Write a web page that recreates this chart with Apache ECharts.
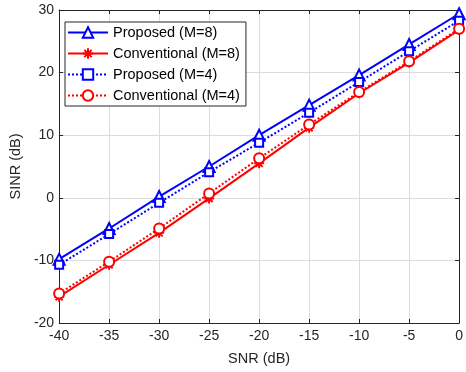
<!DOCTYPE html>
<html>
<head>
<meta charset="utf-8">
<script src="https://cdn.jsdelivr.net/npm/echarts@6/dist/echarts.min.js"></script>
<style>
  html, body { margin: 0; padding: 0; background: #fff; }
  #chart { width: 466px; height: 372px; }
</style>
</head>
<body>
<div id="chart"></div>
<script>
const snr = [-40, -35, -30, -25, -20, -15, -10, -5, 0]

const proposedM8 = [-9.8, -4.9, 0.2, 5.0, 10.0, 14.8, 19.6, 24.5, 29.4]
const conventionalM8 = [-15.8, -10.7, -5.6, -0.1, 5.5, 11.2, 16.7, 21.6, 26.8]
const proposedM4 = [-10.7, -5.8, -0.8, 4.1, 8.8, 13.6, 18.5, 23.4, 28.3]
const conventionalM4 = [-15.3, -10.2, -4.9, 0.7, 6.3, 11.7, 16.9, 21.8, 27.0]

const names = ['Proposed (M=8)', 'Conventional (M=8)', 'Proposed (M=4)', 'Conventional (M=4)']

const axisColor = '#262626'
const font = 'Liberation Sans, Arial, sans-serif'
// matlab-like '*' marker: vertical, horizontal and two diagonals
const asterisk = 'path://M0,-5L0,5M-5,0L5,0M-3.5,-3.5L3.5,3.5M-3.5,3.5L3.5,-3.5'

const chart = echarts.init(document.getElementById('chart'))

function pairs(values) {
  return snr.map((x, i) => [x, values[i]])
}

function makeSeries(name, values, color, lineType, symbol, size) {
  return {
    name,
    type: 'line',
    data: pairs(values),
    symbol,
    symbolSize: size,
    showAllSymbol: true,
    lineStyle: { color, width: 2, type: lineType },
    itemStyle: { color, borderColor: color, borderWidth: 2 },
    emphasis: { disabled: true },
    z: 3,
  }
}

const sideAxis = {
  axisLine: { show: true, onZero: false, lineStyle: { color: axisColor } },
  axisTick: { show: true, inside: true, length: 4, lineStyle: { color: axisColor } },
  axisLabel: { show: false },
  splitLine: { show: false },
}

chart.setOption({
  animation: false,
  backgroundColor: '#fff',
  grid: { left: 57, right: 4, top: 10, bottom: 49 },
  legend: {
    data: names,
    orient: 'vertical',
    left: 65,
    top: 22,
    backgroundColor: '#fff',
    borderColor: axisColor,
    borderWidth: 1,
    padding: [3, 6, 3, 2],
    itemWidth: 40,
    itemHeight: 13,
    itemGap: 6,
    textStyle: { fontFamily: font, fontSize: 14.5, color: '#000' },
  },
  xAxis: [
    {
      type: 'value',
      min: -40, max: 0, interval: 5,
      name: 'SNR (dB)',
      nameLocation: 'middle',
      nameGap: 28,
      nameTextStyle: { fontFamily: font, fontSize: 14.5, color: axisColor },
      axisLine: { show: true, onZero: false, lineStyle: { color: axisColor } },
      axisTick: { show: true, inside: true, length: 4, lineStyle: { color: axisColor } },
      axisLabel: { fontFamily: font, fontSize: 14, color: axisColor, margin: 6 },
      splitLine: { show: true, lineStyle: { color: '#dcdcdc', width: 1 } },
    },
    Object.assign({ type: 'value', position: 'top', min: -40, max: 0, interval: 5 }, sideAxis),
  ],
  yAxis: [
    {
      type: 'value',
      min: -20, max: 30, interval: 10,
      name: 'SINR (dB)',
      nameLocation: 'middle',
      nameGap: 30,
      nameTextStyle: { fontFamily: font, fontSize: 14.5, color: axisColor },
      axisLine: { show: true, onZero: false, lineStyle: { color: axisColor } },
      axisTick: { show: true, inside: true, length: 4, lineStyle: { color: axisColor } },
      axisLabel: { fontFamily: font, fontSize: 14, color: axisColor, margin: 5 },
      splitLine: { show: true, lineStyle: { color: '#dcdcdc', width: 1 } },
    },
    Object.assign({ type: 'value', position: 'right', min: -20, max: 30, interval: 10 }, sideAxis),
  ],
  series: [
    makeSeries(names[0], proposedM8, '#0000ff', 'solid', 'emptyTriangle', 11),
    makeSeries(names[1], conventionalM8, '#ff0000', 'solid', asterisk, 10),
    makeSeries(names[2], proposedM4, '#0000ff', 'dotted', 'emptyRect', 8),
    makeSeries(names[3], conventionalM4, '#ff0000', 'dotted', 'emptyCircle', 10),
  ],
})
</script>
</body>
</html>
